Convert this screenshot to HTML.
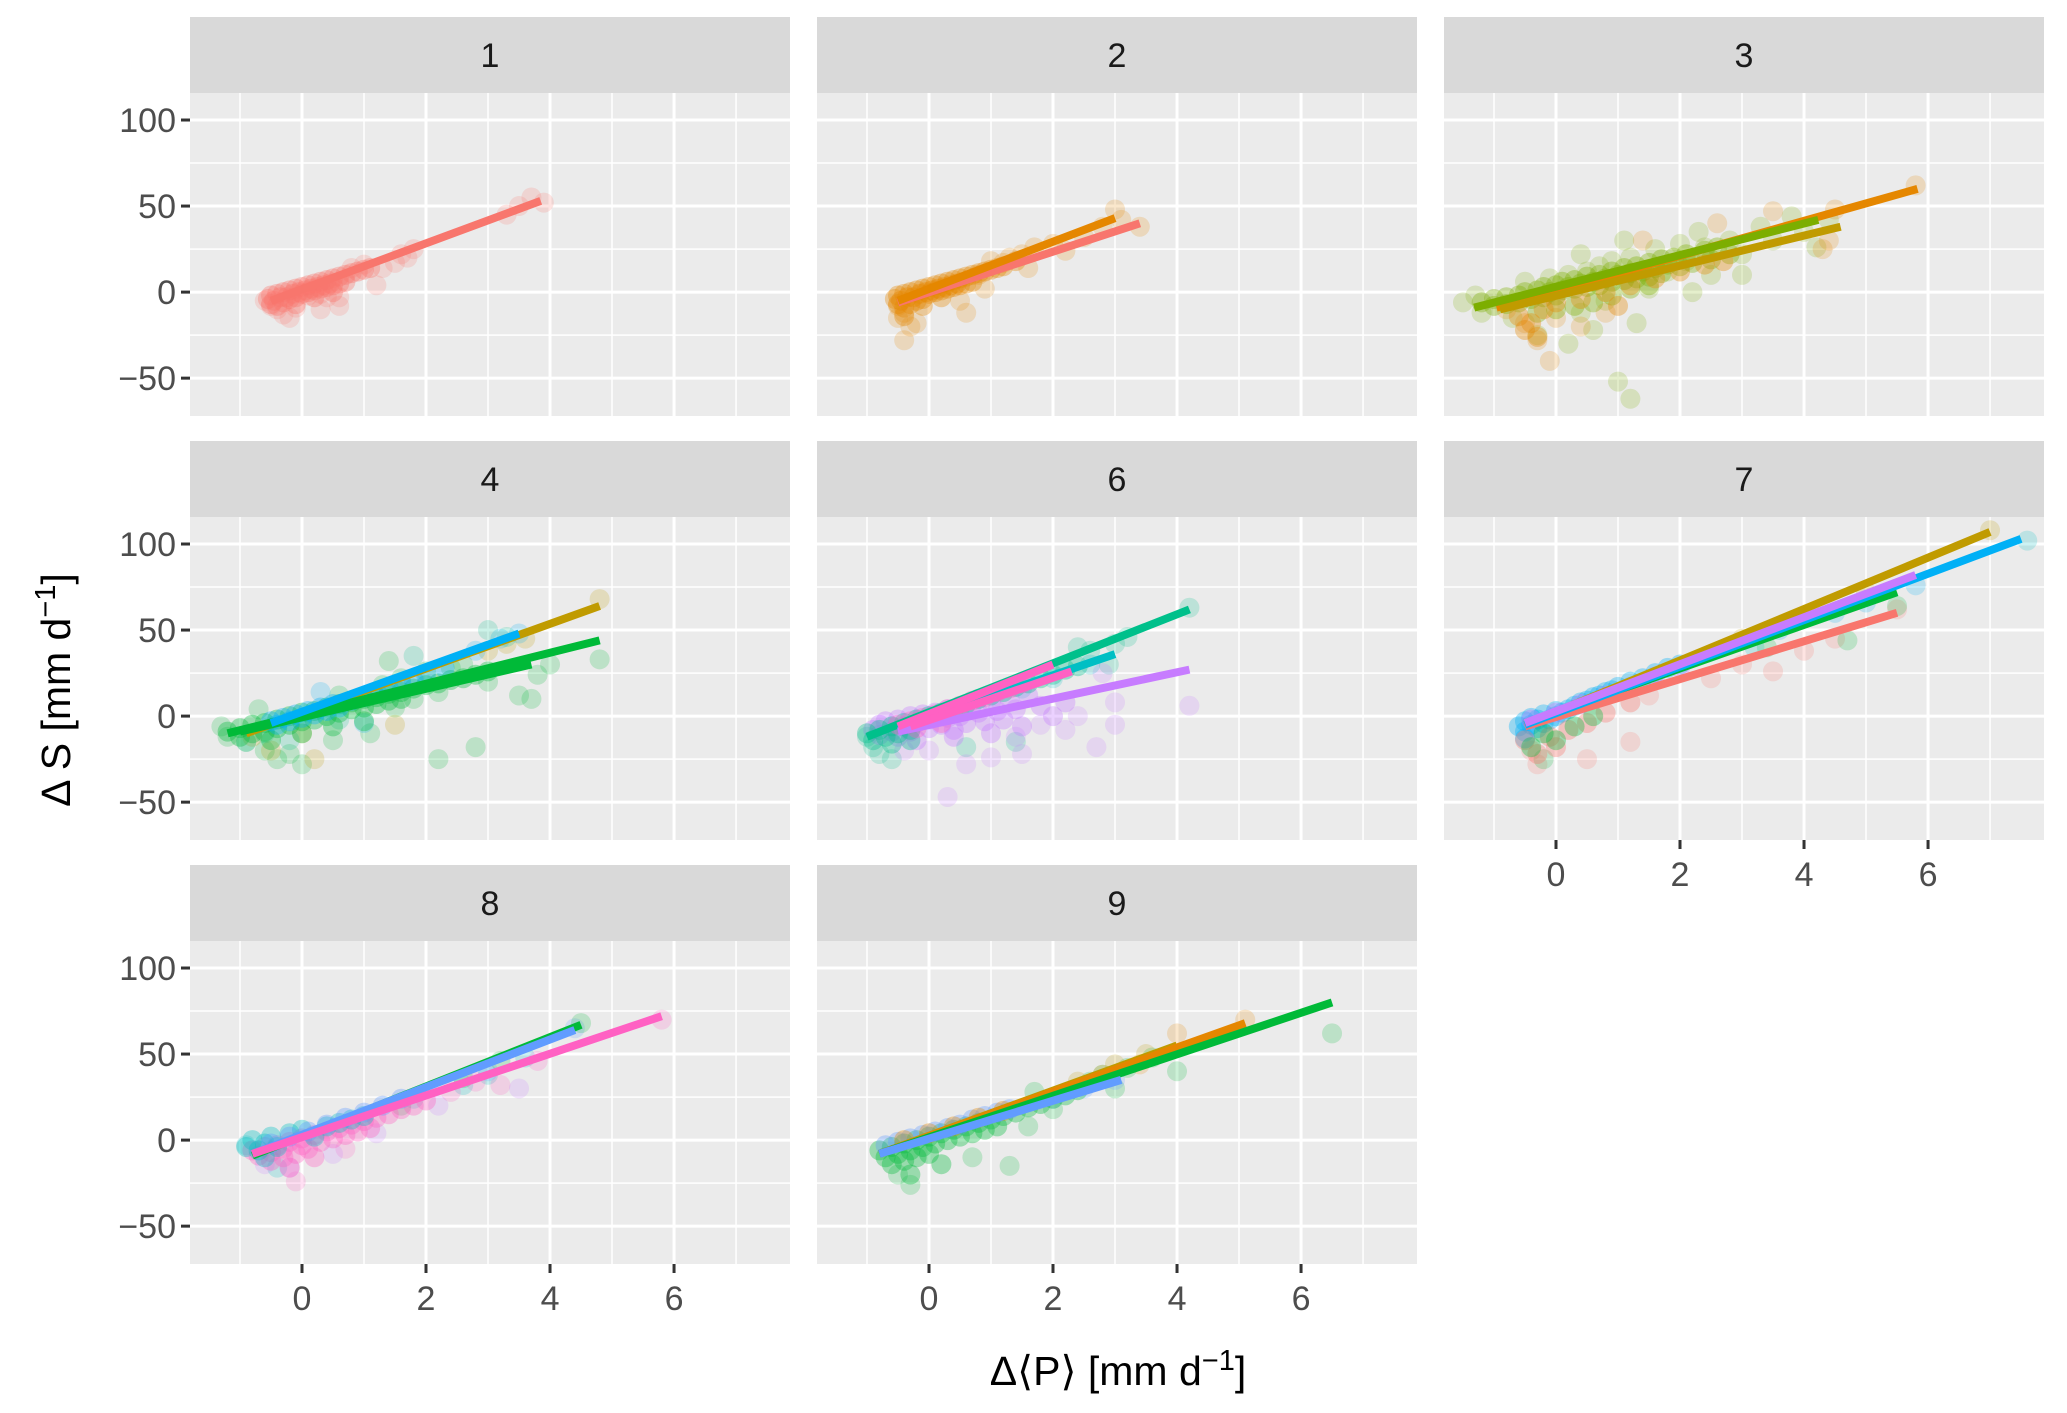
<!DOCTYPE html>
<html><head><meta charset="utf-8"><style>
html,body{margin:0;padding:0;background:#fff}
svg{display:block;font-family:"Liberation Sans",Arial,sans-serif}
</style></head><body>
<svg id="chart" width="2067" height="1413" viewBox="0 0 2067 1413" xmlns="http://www.w3.org/2000/svg">
<text transform="translate(70,690) rotate(-90)" text-anchor="middle" font-size="41" fill="#000">Δ S [mm d<tspan dy="-15" font-size="29">−1</tspan><tspan dy="15">]</tspan></text>
<text x="1118" y="1385" text-anchor="middle" font-size="41" fill="#000">Δ⟨P⟩ [mm d<tspan dy="-15" font-size="29">−1</tspan><tspan dy="15">]</tspan></text>
</svg>
<script>
const panelIds = ["1","2","3","4","6","7","8","9"];
const panelCols = [0,1,2,0,1,2,0,1];
const panelRows = [0,0,0,1,1,1,2,2];
const xTicks = [0,2,4,6];
const xMinor = [-1,1,3,5,7];
const yTicks = [-50,0,50,100];
const yMinor = [-25,25,75];
const palette = {red:"#F8766D",orange:"#E58700",olive:"#7CAE00",gold:"#C09B00",green:"#00BA38",teal:"#00C08B",cyan:"#00BFC4",blue:"#00B0F6",lav:"#619CFF",purple:"#C77CFF",pink:"#FF61C3"};

// dense core clouds per panel: [colorKey, [x,y, ...]]
const core1 = [["red",[-0.55,-4,-0.5,-2,-0.5,-7,-0.45,-5,-0.4,-1,-0.4,-8,-0.35,-3,-0.3,0,-0.3,-6,-0.25,-3,-0.2,1,-0.2,-4,-0.15,-1,-0.1,2,-0.1,-3,-0.05,0,0,3,0,-1,0.05,1,0.1,4,0.1,0,0.15,2,0.2,5,0.2,1,0.25,3,0.3,6,0.3,2,0.35,4,0.4,7,0.4,3,0.45,5,0.5,8,0.5,4,0.6,9,0.6,5,0.7,10,0.7,6,0.8,11,0.9,12,1.0,13,1.1,14,0.2,-3,-0.1,-7,0.5,0]]];
const core2 = [["orange",[-0.55,-4,-0.5,-2,-0.5,-7,-0.45,-5,-0.4,-1,-0.4,-9,-0.35,-3,-0.3,0,-0.3,-7,-0.25,-3,-0.2,1,-0.2,-5,-0.15,-1,-0.1,2,-0.1,-4,-0.05,0,0,3,0,-1,0.05,1,0.1,4,0.1,0,0.15,2,0.2,5,0.2,1,0.25,3,0.3,6,0.3,2,0.35,4,0.4,7,0.4,3,0.45,5,0.5,8,0.5,4,0.6,9,0.6,5,0.7,10,0.7,6,0.8,11,0.9,12,1.0,13,1.1,14,1.2,15,1.4,18,0.2,-3,-0.1,-8,-0.4,-14]]];
const core3 = [["olive",[-1.2,-6,-1.0,-4,-1.0,-8,-0.8,-3,-0.8,-7,-0.6,-2,-0.6,-6,-0.5,0,-0.4,-4,-0.3,1,-0.2,-3,-0.2,3,-0.1,0,0,4,0,-2,0.1,6,0.1,1,0.2,3,0.3,7,0.3,2,0.4,5,0.5,9,0.5,3,0.6,6,0.7,10,0.7,4,0.8,8,0.9,12,0.9,6,1.0,10,1.1,14,1.1,7,1.2,11,1.3,15,1.3,8,1.4,12,1.5,17,1.5,9,1.6,14,1.7,19,1.7,11,1.8,16,1.9,20,2.0,15,2.1,22,2.2,17,2.4,24,2.5,19,2.6,26,2.8,22,-0.3,-12,0.0,-10,0.3,-8,0.6,-6,0.9,-2,1.2,2,1.5,4]],
["orange",[-0.6,-14,-0.4,-18,-0.2,-10,0,-6,0.4,-4,0.8,0,1.2,4,1.6,8,2.0,12,2.4,16,2.7,18,1.0,-8,-0.5,-22,-0.3,-26]]];
const core4 = [["green",[-1.2,-9,-1.0,-7,-1.0,-12,-0.8,-5,-0.8,-10,-0.6,-4,-0.6,-9,-0.4,-2,-0.4,-7,-0.2,0,-0.2,-5,0,2,0,-3,0.2,3,0.2,-2,0.4,5,0.4,0,0.6,7,0.6,2,0.8,8,0.8,4,1.0,10,1.0,5,1.2,11,1.2,7,1.4,13,1.4,9,1.6,14,1.6,10,1.8,16,2.0,18,2.2,19,2.4,21,2.6,22,2.8,24,3.0,26,-0.5,-14,0,-10,0.5,-6,1.0,-3]],
["blue",[-0.5,-3,-0.4,-5,-0.3,-1,-0.2,-3,-0.1,1,0,-1,0.1,3,0.2,1,0.3,5,0.4,3,0.5,7,0.6,5,0.8,9,1.0,11,1.2,14,1.4,16,1.6,19,1.8,21,2.0,24,2.3,28]]];
const core6 = [["purple",[-0.9,-8,-0.8,-5,-0.8,-11,-0.7,-3,-0.6,-9,-0.5,-2,-0.5,-12,-0.4,-6,-0.3,0,-0.3,-9,-0.2,-4,-0.1,1,0,-7,0,-2,0.1,2,0.2,-5,0.3,4,0.3,-1,0.4,-8,0.5,5,0.5,0,0.6,-4,0.7,7,0.8,2,0.9,-3,1.0,8,1.1,3,1.2,-2,1.3,10,1.4,4,1.5,-6,1.6,12,1.8,6,2.0,0,2.2,8,-0.2,-14,0.4,-12,1.0,-10]],
["teal",[-1.0,-10,-0.9,-14,-0.8,-8,-0.7,-12,-0.6,-6,-0.5,-10,-0.4,-4,-0.3,-8,-0.2,-2,0,0,0.2,2,0.4,4,0.6,7,0.8,10,1.0,12,1.2,14,1.4,17,1.6,19,1.8,22,2.0,24,2.2,27,2.4,29,-0.6,-16,-0.3,-14]],
["pink",[-0.5,-5,-0.3,-3,-0.1,-1,0.1,1,0.3,4,0.5,6,0.7,9,0.9,11,1.1,14,1.3,16,1.5,19,-0.2,-7,0.2,-4]]];
const core7 = [["blue",[-0.6,-6,-0.5,-3,-0.5,-9,-0.4,-5,-0.4,-1,-0.3,-7,-0.3,-2,-0.2,-4,-0.2,1,-0.1,-2,0,0,0,3,0.1,2,0.2,4,0.3,6,0.4,8,0.5,9,0.6,11,0.7,12,0.8,14,0.9,15,1.0,17,1.2,20,1.4,22,1.6,25,1.8,28,2.0,30,-0.5,-13]],
["purple",[-0.4,-2,0,2,0.4,7,0.8,12,1.2,17,1.6,23,2.0,28]],
["red",[-0.5,-14,-0.3,-22,-0.1,-12,0.2,-8,0.5,-4,0.8,2,1.2,8,0,-18]],
["green",[-0.4,-18,-0.2,-10,0,-14,0.3,-6,0.6,0]]];
const core8 = [["pink",[-0.8,-6,-0.7,-9,-0.6,-4,-0.5,-12,-0.5,-7,-0.4,-3,-0.3,-10,-0.3,-5,-0.2,-1,-0.1,-8,0,-3,0,1,0.1,-5,0.2,3,0.3,-1,0.4,5,0.5,1,0.6,7,0.7,3,0.8,9,0.9,5,1.0,11,1.1,7,1.2,13,1.4,15,1.6,18,1.8,20,2.0,23,-0.2,-16,0.2,-10]],
["cyan",[-0.9,-4,-0.8,0,-0.7,-6,-0.6,-2,-0.5,2,-0.4,-4,-0.2,4,0,6,0.2,2,0.4,8,0.6,10,0.8,12,1.0,14,-0.6,-10]],
["lav",[-0.5,-2,-0.2,2,0.1,5,0.4,9,0.7,13,1.0,16,1.3,20,1.6,24]]];
const core9 = [["green",[-0.8,-6,-0.7,-10,-0.6,-4,-0.6,-14,-0.5,-8,-0.4,-2,-0.4,-12,-0.3,-6,-0.2,0,-0.2,-10,-0.1,-4,0,2,0,-8,0.1,-2,0.2,4,0.3,0,0.4,6,0.5,2,0.6,8,0.7,4,0.8,10,0.9,6,1.0,12,1.1,8,1.2,14,1.4,16,1.6,19,1.8,21,2.0,24,2.2,26,2.4,29,-0.3,-20,0.2,-14]],
["lav",[-0.7,-3,-0.5,-1,-0.3,1,-0.1,3,0.1,5,0.3,7,0.5,9,0.7,12,0.9,14,1.1,16,1.3,18]],
["orange",[-0.4,0,0,4,0.4,8,0.8,13,1.2,17]]];
const panelCore = [core1,core2,core3,core4,core6,core7,core8,core9];

// sparse scatter points per panel
const pts1 = [["red",[-0.6,-5,-0.5,-8,-0.4,-10,-0.3,-13,-0.1,-9,0.1,-2,0.3,-1,0.4,-3,0.6,-3,0.8,14,1.0,16,1.2,4,1.3,14,1.5,17,1.6,22,1.8,25,1.7,20,3.5,50,3.7,55,3.9,52,3.3,45,-0.2,-15,0.3,-10,0.6,-8]]];
const pts2 = [["orange",[-0.5,-8,-0.4,-12,-0.4,-28,-0.3,-20,0.6,-12,0.8,10,1.0,18,1.2,17,1.3,20,1.5,22,1.7,26,2.0,28,2.2,24,2.5,32,2.8,38,3.0,48,3.4,38,3.1,42,-0.5,-15,-0.2,-18,0.5,-5,0.9,2,1.6,14]]];
const pts3 = [["olive",[-1.5,-6,-1.3,-2,-1.2,-12,-0.7,-15,-0.5,6,-0.1,8,0.2,10,0.4,-12,0.5,12,0.7,15,0.8,-5,0.9,18,1.0,-52,1.2,-62,1.2,20,1.3,-18,1.6,25,1.8,12,2.0,28,2.1,18,2.4,26,2.5,10,2.8,30,3.0,22,3.3,38,3.5,30,3.8,44,4.0,35,4.2,26,4.4,42,3.0,10,2.2,0,-0.3,-25,0.2,-30,0.6,-22,1.5,2,2.3,35,1.1,30,0.4,22]],
["orange",[-0.5,-18,-0.3,-28,0,-15,0.4,-20,1.4,30,2.6,40,3.5,47,4.5,48,4.3,25,4.4,30,5.8,62,-0.8,-10,0.8,-12,-0.1,-40]]];
const pts4 = [["green",[-1.3,-6,-1.2,-12,-0.9,-15,-0.7,4,-0.6,-20,-0.4,-25,0,-28,0.5,-14,0.6,12,1.1,-10,1.3,18,1.5,5,1.6,22,1.8,10,2.0,26,2.2,14,2.4,28,2.2,-25,2.8,-18,3.0,20,3.5,12,3.8,24,3.7,10,4.8,33,4.0,30,2.6,30,1.4,32,-0.2,-22]],
["gold",[-0.8,-12,-0.5,-20,0,-10,1.5,-5,0.2,-25,3.0,38,3.3,42,3.6,45,4.8,68]],
["blue",[0.3,14,1.0,-4,2.8,38,3.2,45,3.5,48]],
["teal",[-0.9,-15,-0.6,-10,-0.2,-14,0.6,-2,1.8,35,3.0,50,3.3,46]]];
const pts6 = [["teal",[-1.0,-12,-0.9,-18,-0.8,-22,-0.6,-25,0.6,-18,1.4,-15,2.4,40,2.6,38,3.0,42,3.2,46,2.9,30,4.2,63]],
["purple",[0.3,-47,0,-20,1.0,-24,1.4,-12,2.4,0,2.7,-18,3.0,-5,3.0,8,2.8,25,4.2,6,1.5,-22,0.6,-28,-0.4,-20,1.8,-5,2.2,-8]],
["cyan",[1.5,16,2.0,22,2.6,30]]];
const pts7 = [["red",[-0.4,-20,-0.3,-28,0.5,-25,1.2,-15,1.5,12,2.5,22,3.0,30,3.5,26,4.0,38,4.5,45,5.5,62]],
["gold",[3.0,45,4.0,58,5.0,72,7.0,108]],
["green",[-0.2,-25,3.4,40,4.7,44,5.5,64]],
["cyan",[7.6,102,3.2,40,1.5,20]],
["blue",[3.6,50,4.5,60,5.0,66,5.8,76]]];
const pts8 = [["cyan",[-0.9,-3,-0.4,-16,1.8,24,2.6,32,3.0,38,3.6,48]],
["pink",[-0.1,-24,0.7,-5,2.4,28,2.8,34,3.2,32,3.8,46,5.8,70]],
["lav",[3.0,40,4.4,65]],
["green",[1.6,20,2.6,36,3.2,46,4.5,68]],
["purple",[-0.6,-14,-0.2,-16,0.5,-8,1.2,4,2.2,20,3.5,30]]];
const pts9 = [["green",[-0.5,-20,-0.3,-26,0.7,-10,1.3,-15,1.6,8,2.0,18,2.6,34,2.8,38,3.0,30,3.2,42,3.6,48,4.0,40,6.5,62,1.7,28]],
["orange",[2.8,38,3.4,44,4.0,62,5.1,70]],
["gold",[2.4,34,3.0,44,3.5,50]],
["lav",[2.0,24,2.5,30,3.0,35]]];
const panelPoints = [pts1,pts2,pts3,pts4,pts6,pts7,pts8,pts9];

// fitted lines per panel: [colorKey, x0, y0, x1, y1]
const lines1 = [["red",-0.5,-5,3.85,53]];
const lines2 = [["red",-0.5,-6,3.4,40],["orange",-0.5,-5,3.0,43]];
const lines3 = [["orange",-0.96,-9,5.83,60],["gold",-0.9,-10,4.59,38],["olive",-1.32,-9,4.23,42]];
const lines4 = [["gold",-0.9,-10,4.8,64],["green",-1.2,-10,4.8,44],["green",-1.0,-9,3.7,30],["blue",-0.5,-4,3.5,48]];
const lines6 = [["teal",-1.0,-12,4.2,62],["cyan",-0.5,-7,3.0,36],["purple",-0.5,-9,4.2,27],["pink",-0.5,-6,2.0,30],["pink",-0.3,-6,2.3,26]];
const lines7 = [["gold",-0.5,-5,7.0,107],["green",-0.5,-4,5.5,72],["red",-0.5,-6,5.5,60],["blue",-0.5,-5,7.5,103],["purple",-0.5,-4,5.8,82]];
const lines8 = [["green",-0.8,-9,4.5,67],["lav",-0.8,-8,4.4,64],["pink",-0.8,-8,5.8,72]];
const lines9 = [["gold",-0.8,-8,4.0,55],["orange",-0.8,-8,5.1,68],["green",-0.8,-8,6.5,80],["lav",-0.8,-8,3.1,35]];
const panelLines = [lines1,lines2,lines3,lines4,lines6,lines7,lines8,lines9];

const NS = "http://www.w3.org/2000/svg";
const svg = document.getElementById("chart");
const colLeft = [190,817,1444], panelW = 600;
const rowTop = [17,441,865], stripH = 76, plotH = 323;
const xMin = -1.806, xMax = 7.87, yMin = -72, yMax = 115.7;
function mk(tag, attrs, parent){const e=document.createElementNS(NS,tag);for(const k in attrs)e.setAttribute(k,attrs[k]);(parent||svg).appendChild(e);return e;}

panelIds.forEach((pid,i)=>{
  const L = colLeft[panelCols[i]], T = rowTop[panelRows[i]] + stripH;
  const sx = v => L + (v - xMin) / (xMax - xMin) * panelW;
  const sy = v => T + (yMax - v) / (yMax - yMin) * plotH;
  const g = mk("g",{});
  
  
  const strip = mk("rect",{x:L,y:T-stripH,width:panelW,height:stripH,fill:"#D9D9D9"},g);
  
  
  const st = mk("text",{x:L+panelW/2,y:T-stripH/2+12,"text-anchor":"middle","font-size":34,fill:"#1a1a1a"},g);
  st.textContent = pid;
  
  
  const bg = mk("rect",{x:L,y:T,width:panelW,height:plotH,fill:"#EBEBEB"},g);
  
  
  yMinor.forEach(v=>{mk("line",{x1:L,x2:L+panelW,y1:sy(v),y2:sy(v),stroke:"#fff","stroke-width":1.5},g);});
  xMinor.forEach(v=>{mk("line",{x1:sx(v),x2:sx(v),y1:T,y2:T+plotH,stroke:"#fff","stroke-width":1.5},g);});
  yTicks.forEach(v=>{mk("line",{x1:L,x2:L+panelW,y1:sy(v),y2:sy(v),stroke:"#fff","stroke-width":3},g);});
  xTicks.forEach(v=>{mk("line",{x1:sx(v),x2:sx(v),y1:T,y2:T+plotH,stroke:"#fff","stroke-width":3},g);});
  const cp = "clip"+i;
  const cpe = mk("clipPath",{id:cp},g); mk("rect",{x:L,y:T,width:panelW,height:plotH},cpe);
  const dg = mk("g",{"clip-path":"url(#"+cp+")"},g);
  const drawPts = (groups, op) => groups.forEach(grp=>{
    const col = palette[grp[0]], a = grp[1];
    for(let k=0;k<a.length;k+=2){
      const c = mk("circle",{cx:sx(a[k]),cy:sy(a[k+1]),r:10,fill:col,"fill-opacity":op},dg);
      
      
    }
  });
  drawPts(panelPoints[i], 0.2);
  drawPts(panelCore[i], 0.35);
  panelLines[i].forEach(ln=>{
    const l = mk("line",{x1:sx(ln[1]),y1:sy(ln[2]),x2:sx(ln[3]),y2:sy(ln[4]),stroke:palette[ln[0]],"stroke-width":8},dg);
    
    
  });
  if(panelCols[i]===0){
    yTicks.forEach(v=>{
      mk("line",{x1:L-9,x2:L,y1:sy(v),y2:sy(v),stroke:"#333","stroke-width":3},g);
      const t = mk("text",{x:L-14,y:sy(v)+12,"text-anchor":"end","font-size":34,fill:"#4D4D4D"},g);
      t.textContent = v<0 ? "−"+Math.abs(v) : String(v);
      
      
    });
  }
  if(panelRows[i]===2 || pid==="7"){
    xTicks.forEach(v=>{
      mk("line",{x1:sx(v),x2:sx(v),y1:T+plotH,y2:T+plotH+9,stroke:"#333","stroke-width":3},g);
      const t = mk("text",{x:sx(v),y:T+plotH+46,"text-anchor":"middle","font-size":34,fill:"#4D4D4D"},g);
      t.textContent = String(v);
      
      
    });
  }
});
</script>
</body></html>
